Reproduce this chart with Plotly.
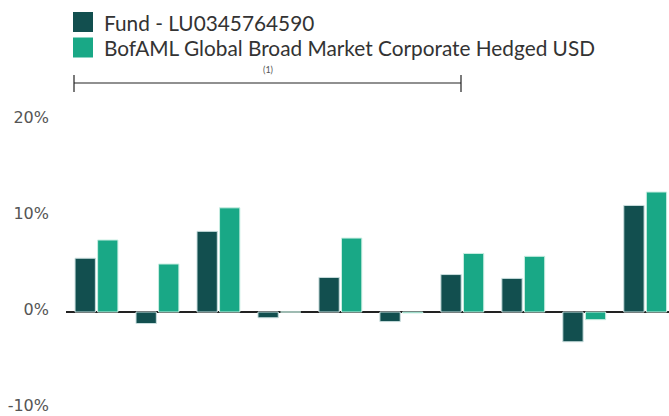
import plotly.graph_objects as go

categories = ["P1", "P2", "P3", "P4", "P5", "P6", "P7", "P8", "P9", "P10"]
fund = [5.6, -1.2, 8.4, -0.6, 3.6, -1.0, 3.9, 3.5, -3.1, 11.1]
bench = [7.5, 5.0, 10.85, 0.0, 7.7, -0.1, 6.1, 5.8, -0.8, 12.5]
fund_name = "Fund - LU0345764590"
bench_name = "BofAML Global Broad Market Corporate Hedged USD"
y_ticks = [-10, 0, 10, 20]
y_labels = ["-10%", "0%", "10%", "20%"]
fund_color = "#124f4f"
bench_color = "#19a886"

FONT = "Lato"
TICKFONT = "DejaVu Sans"
W, H = 669, 416
PL, PR, PT, PB = 66, 669, 120, 408  # plot area in window pixels
L, T = PL, PT
R, B = W - PR, H - PB
PW, PH = PR - PL, PB - PT


def px(x):
    return (x - PL) / PW


def py(y):
    return (PB - y) / PH


fig = go.Figure()
fig.add_trace(go.Bar(x=categories, y=fund, name=fund_name,
                     marker=dict(color=fund_color, line=dict(color="#c9dede", width=1))))
fig.add_trace(go.Bar(x=categories, y=bench, name=bench_name,
                     marker=dict(color=bench_color, line=dict(color="#c9eee2", width=1))))

fig.update_layout(
    width=W, height=H,
    margin=dict(l=L, r=R, t=T, b=B, autoexpand=False),
    paper_bgcolor="white", plot_bgcolor="white",
    barmode="group", bargap=0.26, bargroupgap=0.1,
    font=dict(family=FONT, color="#333333"),
    showlegend=False,
    xaxis=dict(range=[-0.5, 9.39], showticklabels=False, showgrid=False,
               zeroline=False, showline=False, ticks=""),
    yaxis=dict(range=[-10, 20], tickvals=y_ticks, ticktext=y_labels,
               showgrid=False, zeroline=True, zerolinecolor="#222222", zerolinewidth=2,
               tickfont=dict(size=16, color="#555555", family=TICKFONT),
               ticks="", ticklabelstandoff=16, ticklabeloverflow="allow",
               ticklabelshift=-3),
)

# manual legend
for i, (name, col) in enumerate([(fund_name, fund_color), (bench_name, bench_color)]):
    cy = 22 + i * 25.5
    fig.add_shape(type="rect", xref="paper", yref="paper",
                  x0=px(73), x1=px(93), y0=py(cy + 10), y1=py(cy - 10),
                  fillcolor=col, line=dict(width=0), layer="above")
    fig.add_annotation(xref="paper", yref="paper", x=px(102), y=py(cy), xanchor="left",
                       yanchor="middle", text=name, showarrow=False,
                       font=dict(size=20.8, color="#333333", family=FONT))

# bracket above chart
lx0, lx1 = 74, 461
yb = 83
fig.add_shape(type="line", xref="paper", yref="paper", x0=px(lx0), x1=px(lx1),
              y0=py(yb), y1=py(yb), line=dict(color="#222222", width=1.2))
for xx in (lx0, lx1):
    fig.add_shape(type="line", xref="paper", yref="paper", x0=px(xx), x1=px(xx),
                  y0=py(92), y1=py(75), line=dict(color="#222222", width=1.2))
fig.add_annotation(x=px((lx0 + lx1) / 2), xref="paper", y=py(70), yref="paper",
                   text="(1)", showarrow=False, yanchor="middle",
                   font=dict(size=9, color="#555555", family=FONT))

fig.write_html("out.html", config={"displayModeBar": False},
               post_script="document.body.style.margin='0';document.body.style.overflow='hidden';")
